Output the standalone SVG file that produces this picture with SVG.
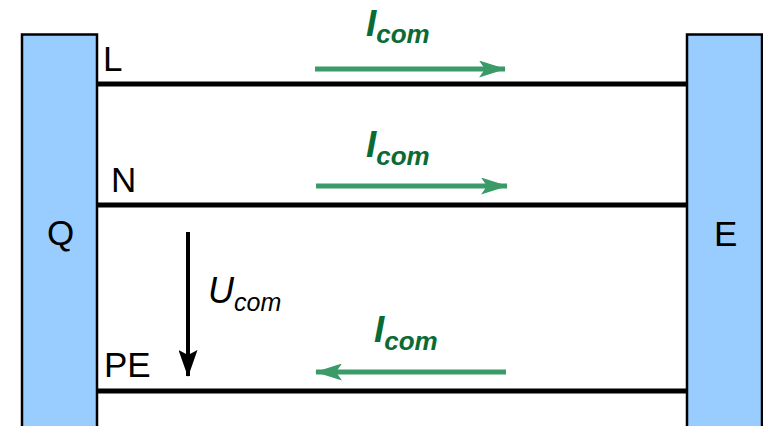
<svg xmlns="http://www.w3.org/2000/svg" width="763" height="426" viewBox="0 0 763 426">
<defs>
<style>
.box{fill:#99ccff;stroke:#000;stroke-width:2.5}
.wire{stroke:#000;stroke-width:5;fill:none}
.cur{stroke:#3a9a68;stroke-width:5;fill:none}
.lbl{font-family:"Liberation Sans",Arial,sans-serif;font-size:35px;fill:#000}
.ic{font-family:"Liberation Sans",Arial,sans-serif;font-weight:bold;font-style:italic;fill:#0b6b35;font-size:37px}
.ic tspan{font-size:26px}
.uc{font-family:"Liberation Sans",Arial,sans-serif;font-style:italic;fill:#000;font-size:36px}
.uc tspan{font-size:25px}
</style>
<marker id="ga" viewBox="0 0 27 17" refX="26" refY="8.5" markerWidth="27" markerHeight="17" markerUnits="userSpaceOnUse" orient="auto"><path d="M0,0 L27,8.5 L0,17 L6,8.5 Z" fill="#3a9a68"/></marker>
<marker id="ba" viewBox="0 0 27 19" refX="26" refY="9.5" markerWidth="27" markerHeight="19" markerUnits="userSpaceOnUse" orient="auto"><path d="M0,0 L27,9.5 L0,19 L5,9.5 Z" fill="#000"/></marker>
</defs>
<g id="Q"><rect class="box" x="22" y="34.5" width="75" height="400"/><text class="lbl" x="47" y="245">Q</text></g>
<g id="E"><rect class="box" x="687" y="34.5" width="75" height="400"/><text class="lbl" x="714" y="246">E</text></g>
<g id="connectors">
<line class="wire" x1="97" y1="84" x2="687" y2="84"/>
<line class="wire" x1="97" y1="205" x2="687" y2="205"/>
<line class="wire" x1="97" y1="391" x2="687" y2="391"/>
<line class="cur" x1="315" y1="69" x2="505" y2="69" marker-end="url(#ga)"/>
<line class="cur" x1="316" y1="186" x2="507" y2="186" marker-end="url(#ga)"/>
<line class="cur" x1="506" y1="372" x2="316" y2="372" marker-end="url(#ga)"/>
<line x1="188" y1="232" x2="188" y2="376" stroke="#000" stroke-width="4" marker-end="url(#ba)"/>
</g>
<g id="labels">
<text class="lbl" x="103" y="71">L</text>
<text class="lbl" x="111" y="192">N</text>
<text class="lbl" x="104" y="377">PE</text>
<text class="ic" x="366" y="36">I<tspan dy="7">com</tspan></text>
<text class="ic" x="366" y="157">I<tspan dy="8">com</tspan></text>
<text class="ic" x="374" y="342">I<tspan dy="8">com</tspan></text>
<text class="uc" x="208" y="303">U<tspan dy="8">com</tspan></text>
</g>
</svg>
